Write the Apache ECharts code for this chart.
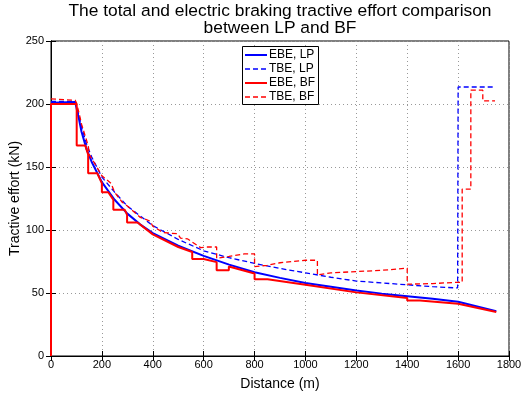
<!DOCTYPE html>
<html><head><meta charset="utf-8">
<script src="https://cdn.jsdelivr.net/npm/echarts@6/dist/echarts.min.js"></script>
<style>html,body{margin:0;padding:0;background:#fff}#c{width:522px;height:393px}</style>
</head><body><div id="c"></div>
<script>
// ---- data ----
var titleText = 'The total and electric braking tractive effort comparison\nbetween LP and BF';
var xName = 'Distance (m)';
var yName = 'Tractive effort (kN)';
var legendNames = ['EBE, LP','TBE, LP','EBE, BF','TBE, BF'];

var ebeLP_d = [0,95,100,110,120,140,160,200,250,300,350,400,500,600,700,800,900,1000,1100,1200,1300,1400,1500,1600,1750];
var ebeLP_v = [201,201.5,200,188,178,164,154,138,124,113,104.5,97.5,87.5,79.5,72.5,66.5,62,58,55,52,49.5,47.5,45.5,43,35.5];

var tbeLP_d = [0,95,100,110,120,140,160,200,250,300,400,500,600,700,800,900,1000,1100,1200,1300,1400,1500,1598,1600,1745];
var tbeLP_v = [202,202,201,191,182,168,158,142,130,119,103.5,92.5,83.5,78,73.5,69.5,66,62.5,59.5,58,56.5,55,54,213.5,213.5];

var ebeBF_d = [0,0,101,101,135,146,146,182,200,200,225,245,245,290,299,299,340,400,500,555,555,600,651,651,699,699,800,800,851,851,1000,1200,1400,1400,1450,1600,1750];
var ebeBF_v = [0,200,200,167,167,160,145,145,137,130,130,124,116,116,112,106,106,96.5,86.5,82.5,77,77,74.5,68,68,71,65.5,61,61,62.5,56.5,50.5,46,44,44,41.5,35];

var tbeBF_d = [0,95,100,110,120,140,147,150,180,200,236,250,280,300,351,390,400,441,497,509,536,588,615,651,651,700,760,800,800,850,900,1000,1047,1047,1100,1200,1300,1400,1400,1500,1597,1616,1616,1650,1650,1697,1697,1745];
var tbeBF_v = [204,203,201,193,184,171,166,160,150,143,137,130,122,119,110,107,103,98,97,93.5,93,86,86.5,86.5,77.5,79,81,81,71,72,74,76,76,64.3,66,67,68,69.7,57,57.5,58.5,58.5,132.5,132.5,211,211,202.5,202.5];

function pairs(d, v){ var o=[]; for(var i=0;i<d.length;i++) o.push([d[i], v[i]]); return o; }

var chart = echarts.init(document.getElementById('c'), null, {renderer:'canvas'});
var font = '"Liberation Sans", Arial, Helvetica, sans-serif';
var gridLine = {show:true, lineStyle:{color:'#999', type:[1,3], width:1}};
var fmt = function(v){ return String(v); };
var blue = '#0000ff', red = '#ff0000';
var legStyles = [
  {color:blue, dash:null, w:2},
  {color:blue, dash:[5,3], w:1.3},
  {color:red, dash:null, w:2},
  {color:red, dash:[5,3], w:1.3}
];
var legendGraphics = [{type:'rect', shape:{x:242.5, y:46.5, width:76, height:58}, style:{fill:'#fff', stroke:'#000', lineWidth:1}, z:100}];
for (var i=0;i<4;i++){
  var cy = 55 + i*14;
  legendGraphics.push({type:'line', shape:{x1:245, y1:cy, x2:267, y2:cy}, style:{stroke:legStyles[i].color, lineWidth:legStyles[i].w, lineDash:legStyles[i].dash}, z:101});
  legendGraphics.push({type:'text', x:269, y:cy, style:{text:legendNames[i], fill:'#000', font:'12px '+font, textVerticalAlign:'middle', textAlign:'left'}, z:101});
}

chart.setOption({
  animation:false,
  backgroundColor:'#fff',
  title:{text:titleText, left:280, textAlign:'center', top:3, padding:0,
    textStyle:{fontFamily:font, fontSize:17.4, fontWeight:'normal', color:'#000', lineHeight:17}},
  grid:{left:51, right:13, top:41, bottom:37, show:true, borderColor:'#000', borderWidth:1, containLabel:false, outerBoundsMode:'none'},
  xAxis:[{type:'value', min:0, max:1800, interval:200, name:xName, nameLocation:'middle', nameGap:21, nameMoveOverlap:false,
      nameTextStyle:{fontFamily:font, fontSize:14, color:'#000'},
      axisLine:{show:true, lineStyle:{color:'#000'}}, axisTick:{inside:true, length:5, lineStyle:{color:'#000'}},
      axisLabel:{fontFamily:font, fontSize:11, color:'#000', margin:3, formatter:fmt}, splitLine:gridLine},
    {type:'value', position:'top', min:0, max:1800, interval:200, axisLine:{show:true, lineStyle:{color:'#000'}},
      axisTick:{inside:true, length:5, lineStyle:{color:'#000'}}, axisLabel:{show:false}, splitLine:{show:false}}],
  yAxis:[{type:'value', min:0, max:250, interval:50, name:yName, nameLocation:'middle', nameGap:29, nameMoveOverlap:false,
      nameTextStyle:{fontFamily:font, fontSize:14, color:'#000'},
      axisLine:{show:true, lineStyle:{color:'#000'}}, axisTick:{show:true, inside:true, length:5, lineStyle:{color:'#000'}},
      axisLabel:{fontFamily:font, fontSize:11, color:'#000', margin:7, formatter:fmt}, splitLine:gridLine},
    {type:'value', position:'right', min:0, max:250, interval:50, axisLine:{show:true, lineStyle:{color:'#000'}},
      axisTick:{show:true, inside:true, length:5, lineStyle:{color:'#000'}}, axisLabel:{show:false}, splitLine:{show:false}}],
  graphic: legendGraphics,
  series:[
    {name:legendNames[0], type:'line', symbol:'none', data:pairs(ebeLP_d, ebeLP_v), lineStyle:{color:blue, width:2}, z:3},
    {name:legendNames[1], type:'line', symbol:'none', data:pairs(tbeLP_d, tbeLP_v), lineStyle:{color:blue, width:1.3, type:[5,3]}, z:3},
    {name:legendNames[2], type:'line', symbol:'none', data:pairs(ebeBF_d, ebeBF_v), lineStyle:{color:red, width:2}, z:4},
    {name:legendNames[3], type:'line', symbol:'none', data:pairs(tbeBF_d, tbeBF_v), lineStyle:{color:red, width:1.3, type:[5,3]}, z:4}
  ]
});
</script></body></html>
